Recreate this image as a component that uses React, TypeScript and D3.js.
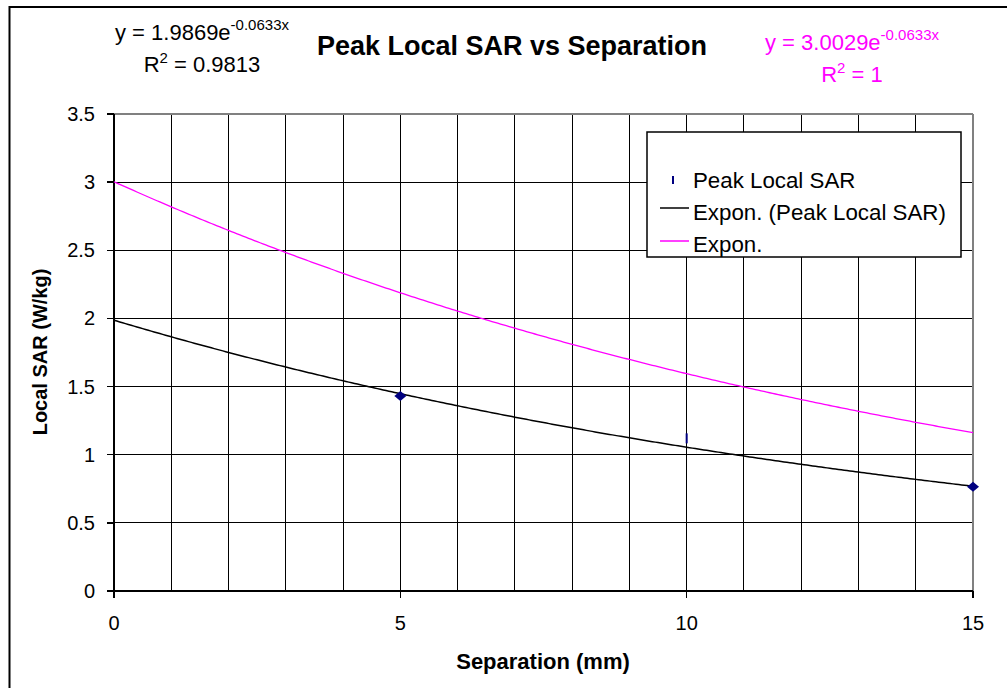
import React from "react";
import * as d3 from "d3";

const xTicks = [0, 5, 10, 15];
const yTicks = [0, 0.5, 1, 1.5, 2, 2.5, 3, 3.5];
const xGrid = [0, 1, 2, 3, 4, 5, 6, 7, 8, 9, 10, 11, 12, 13, 14, 15];
const sepValues = [5, 10, 15];
const sarValues = [1.43, 1.12, 0.765];
const fitBlack = { a: 1.9869, b: -0.0633 };
const fitMagenta = { a: 3.0029, b: -0.0633 };
const legendLabels = ["Peak Local SAR", "Expon. (Peak Local SAR)", "Expon."];

const W = 1007, H = 688;
const L = 114, R = 973, T = 114, B = 591;
const FONT = "'Liberation Sans', Arial, sans-serif";

export default function App() {
  const x = d3.scaleLinear().domain([0, 15]).range([L, R]);
  const y = d3.scaleLinear().domain([0, 3.5]).range([B, T]);
  const samples = d3.range(0, 15.0001, 0.05);
  const blackPts = samples.map(s => fitBlack.a * Math.exp(fitBlack.b * s));
  const magPts = samples.map(s => fitMagenta.a * Math.exp(fitMagenta.b * s));
  const lineB = d3.line<number>().x((_, i) => x(samples[i])).y(d => y(d))(blackPts) || "";
  const lineM = d3.line<number>().x((_, i) => x(samples[i])).y(d => y(d))(magPts) || "";

  return (
    <svg width={W} height={H} style={{ position: "absolute", left: 0, top: 0, background: "#fff" }} fontFamily={FONT}>
      <rect x={0} y={0} width={W} height={H} fill="#fff" />
      {/* outer frame */}
      <rect x={9.5} y={7} width={W + 20} height={H + 20} fill="none" stroke="#000" strokeWidth={2} />

      {/* grid */}
      {xGrid.map(v => (
        <line key={"gx" + v} x1={x(v)} x2={x(v)} y1={T} y2={B} stroke="#000" strokeWidth={1} shapeRendering="crispEdges" />
      ))}
      {yTicks.map(v => (
        <line key={"gy" + v} x1={L} x2={R} y1={y(v)} y2={y(v)} stroke="#000" strokeWidth={1} shapeRendering="crispEdges" />
      ))}
      {/* plot area border (gray top/right) */}
      <line x1={L} x2={R} y1={T} y2={T} stroke="#808080" strokeWidth={2} shapeRendering="crispEdges" />
      <line x1={R} x2={R} y1={T} y2={B} stroke="#808080" strokeWidth={2} shapeRendering="crispEdges" />
      {/* axes */}
      <line x1={L} x2={L} y1={T} y2={B + 7} stroke="#000" strokeWidth={2} shapeRendering="crispEdges" />
      <line x1={L - 7} x2={R} y1={B} y2={B} stroke="#000" strokeWidth={2} shapeRendering="crispEdges" />
      {yTicks.map(v => (
        <g key={"yt" + v}>
          <line x1={L - 7} x2={L} y1={y(v)} y2={y(v)} stroke="#000" strokeWidth={1.5} shapeRendering="crispEdges" />
          <text x={L - 19} y={y(v) + 7} textAnchor="end" fontSize={20}>{v}</text>
        </g>
      ))}
      {xTicks.map(v => (
        <g key={"xt" + v}>
          <line x1={x(v)} x2={x(v)} y1={B} y2={B + 7} stroke="#000" strokeWidth={1.5} shapeRendering="crispEdges" />
          <text x={x(v)} y={630} textAnchor="middle" fontSize={20}>{v}</text>
        </g>
      ))}

      {/* trend lines */}
      <path d={lineM} fill="none" stroke="#ff00ff" strokeWidth={1.3} />
      <path d={lineB} fill="none" stroke="#000" strokeWidth={1.5} />

      {/* data markers */}
      {sepValues.map((s, i) => {
        const cx = x(s), cy = y(sarValues[i]);
        return s === 10 ? (
          <line key={"p" + i} x1={cx} x2={cx} y1={cy - 5} y2={cy + 5} stroke="#000080" strokeWidth={2} />
        ) : (
          <path key={"p" + i} d={`M${cx},${cy - 5}L${cx + 6},${cy}L${cx},${cy + 5}L${cx - 6},${cy}Z`} fill="#000080" />
        );
      })}

      {/* title */}
      <text x={512} y={55} textAnchor="middle" fontSize={27} fontWeight="bold">Peak Local SAR vs Separation</text>

      {/* equations */}
      <text x={202} y={40} textAnchor="middle" fontSize={22}>
        y = 1.9869e<tspan dy={-10} fontSize={15}>-0.0633x</tspan>
      </text>
      <text x={202} y={72} textAnchor="middle" fontSize={22}>
        R<tspan dy={-9} fontSize={15}>2</tspan><tspan dy={9}> = 0.9813</tspan>
      </text>
      <text x={852} y={50} textAnchor="middle" fontSize={22} fill="#ff00ff">
        y = 3.0029e<tspan dy={-10} fontSize={15}>-0.0633x</tspan>
      </text>
      <text x={852} y={82} textAnchor="middle" fontSize={22} fill="#ff00ff">
        R<tspan dy={-9} fontSize={15}>2</tspan><tspan dy={9}> = 1</tspan>
      </text>

      {/* legend */}
      <rect x={647} y={132} width={314} height={125} fill="#fff" stroke="#000" strokeWidth={1.5} />
      <line x1={673} x2={673} y1={176} y2={184} stroke="#000080" strokeWidth={2} />
      <text x={693} y={188} fontSize={22.3}>{legendLabels[0]}</text>
      <line x1={660} x2={689} y1={208} y2={208} stroke="#000" strokeWidth={1.5} />
      <text x={693} y={220} fontSize={22.3}>{legendLabels[1]}</text>
      <line x1={660} x2={689} y1={241} y2={241} stroke="#ff00ff" strokeWidth={1.5} />
      <text x={693} y={252} fontSize={22.3}>{legendLabels[2]}</text>

      {/* axis titles */}
      <text x={543} y={669} textAnchor="middle" fontSize={22} fontWeight="bold">Separation (mm)</text>
      <text transform={`translate(47,${352}) rotate(-90)`} textAnchor="middle" fontSize={20} fontWeight="bold">Local SAR (W/kg)</text>
    </svg>
  );
}
